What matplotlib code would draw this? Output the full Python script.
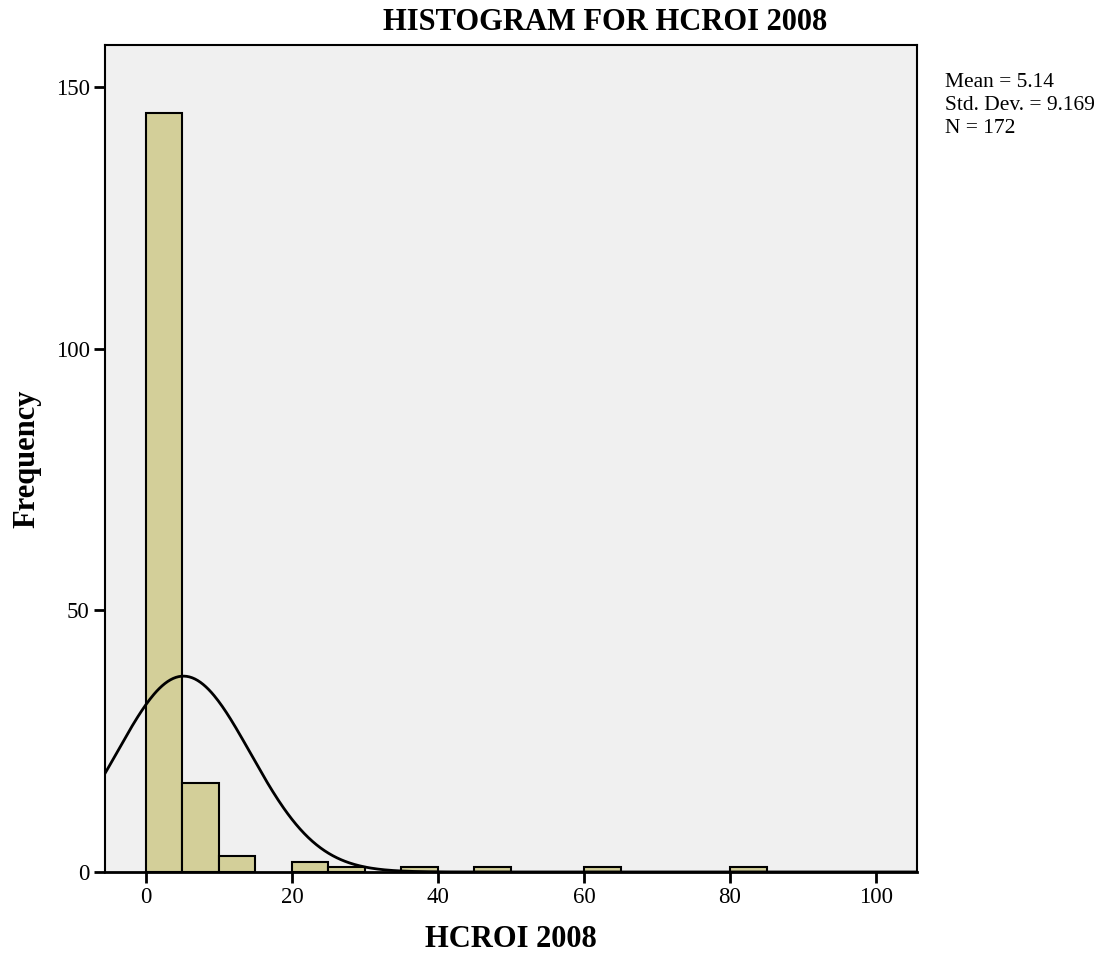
import numpy as np
import matplotlib
matplotlib.use('Agg')
import matplotlib.pyplot as plt

# Histogram data (bin width 5)
bin_edges = [0, 5, 10, 15, 20, 25, 30, 35, 40, 45, 50, 55, 60, 65, 70, 75, 80, 85]
counts = [145, 17, 3, 0, 2, 1, 0, 1, 0, 1, 0, 0, 1, 0, 0, 0, 1]
mean_val = 5.14
std_val = 9.169
n_val = 172
bin_width = 5

plt.rcParams['font.family'] = ['Liberation Serif', 'DejaVu Serif']

fig = plt.figure(figsize=(11, 9.56), dpi=100)
ax = fig.add_axes([0.0955, 0.0879, 0.7381, 0.865])
ax.set_facecolor('#f0f0f0')

# Bars
for left, c in zip(bin_edges[:-1], counts):
    if c > 0:
        ax.bar(left, c, width=bin_width, align='edge', color='#d3cf99',
               edgecolor='black', linewidth=1.5, zorder=2)

# Normal curve
xs = np.linspace(-6, 106, 600)
ys = n_val * bin_width / (std_val * np.sqrt(2 * np.pi)) * np.exp(-0.5 * ((xs - mean_val) / std_val) ** 2)
ax.plot(xs, ys, color='black', linewidth=2, zorder=3)

ax.set_xlim(-5.6, 105.6)
ax.set_ylim(0, 158)
ax.set_xticks([0, 20, 40, 60, 80, 100])
ax.set_yticks([0, 50, 100, 150])
ax.tick_params(direction='out', length=8, width=2, labelsize=16.5, pad=3)
for s in ax.spines.values():
    s.set_linewidth(1.5)
ax.spines['bottom'].set_linewidth(2)

ax.set_xlabel('HCROI 2008', fontsize=22, fontweight='bold', labelpad=12)
ax.set_ylabel('Frequency', fontsize=22, fontweight='bold', labelpad=10)

fig.text(605 / 1100, 1 - 22 / 956, 'HISTOGRAM FOR HCROI 2008', ha='center', va='center',
         fontsize=22, fontweight='bold')
fig.text(945 / 1100, 1 - 73 / 956, 'Mean = 5.14\nStd. Dev. = 9.169\nN = 172',
         ha='left', va='top', fontsize=15.5, linespacing=1.3)

fig.savefig('out.png', dpi=100)
